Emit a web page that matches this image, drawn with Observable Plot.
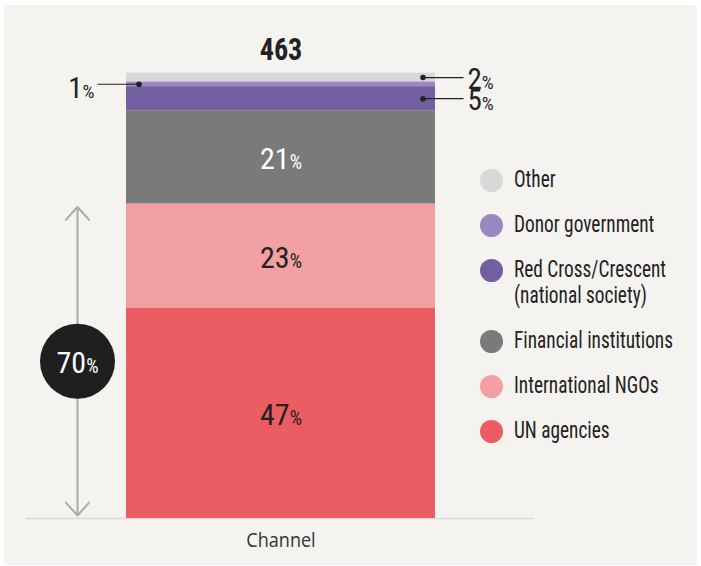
<!DOCTYPE html>
<html>
<head>
<meta charset="utf-8">
<script src="https://cdn.jsdelivr.net/npm/d3@7"></script>
<script src="https://cdn.jsdelivr.net/npm/@observablehq/plot@0.6"></script>
<style>
  html, body { margin: 0; padding: 0; background: #ffffff; }
  #wrap { position: relative; width: 701px; height: 566px; overflow: hidden; }
  #chart { position: absolute; left: 4px; top: 5px; }
  #legend { position: absolute; left: 480px; top: 167px; font-family: "Roboto Condensed", "Roboto", sans-serif;
            font-size: 23px; line-height: 26px; color: #222; }
  #legend .item { display: flex; align-items: flex-start; margin-bottom: 19px; }
  #legend .sw { flex: none; width: 23px; height: 23px; border-radius: 50%; margin-top: 1.5px; }
  #legend .lab { margin-left: 11px; white-space: pre; transform: scaleX(0.84); transform-origin: left center; }
  #chart svg g[aria-label^="x-axis"] text { font-family: "Open Sans", sans-serif !important; font-stretch: normal;
            font-size: 20.5px !important; fill: #333; }
</style>
</head>
<body>
<div id="wrap">
  <div id="chart"></div>
  <div id="legend"></div>
</div>
<script>
// ---- data (bottom of the stack first) ----
const channelName = "Channel";
const categories = [
  "UN agencies",
  "International NGOs",
  "Financial institutions",
  "Red Cross/Crescent (national society)",
  "Donor government",
  "Other"
];
const counts = [219, 108, 97, 25, 5, 9];
const colors = ["#ec5c63", "#f3a0a2", "#7a7a7a", "#735f9f", "#9a88c3", "#d9d8d8"];
const highlighted = ["UN agencies", "International NGOs"];   // bracketed share
const leftCallouts = ["Donor government"];                   // small labels on the left

// ---- derived table ----
const total = d3.sum(counts);
const rows = categories.map((category, i) => ({
  channel: channelName,
  category,
  count: counts[i],
  pct: Math.round(counts[i] / total * 100),
  color: colors[i]
}));
const bracketTop = d3.sum(rows.filter(d => highlighted.includes(d.category)), d => d.count);
const bracketPct = d3.sum(rows.filter(d => highlighted.includes(d.category)), d => d.pct);
const bracketRows = [{y1: bracketTop / 2, y2: bracketTop}, {y1: bracketTop / 2, y2: 0}];

// ---- layout constants (pixels) ----
const W = 693, H = 560;
const barLeft = 122, barRight = 431;
const half = (barRight - barLeft) / 2;
const bracketDx = -203.5;
const dotInset = 12.5, lineLen = 41, textGap = 3.5;

const isDark = c => d3.lab(c).l < 55;
const small = d => d.pct < 10;
const onLeft = d => leftCallouts.includes(d.category);
const stack = o => Plot.stackY({x: "channel", y: "count", ...o});

const plot = Plot.plot({
  width: W,
  height: H,
  marginLeft: 22,
  marginRight: W - 529,
  marginBottom: 47,
  marginTop: 0,
  style: {background: "#f4f3f0", fontFamily: "'Roboto Condensed', Roboto, sans-serif", overflow: "visible"},
  x: {domain: [channelName], range: [barLeft, barRight], padding: 0, axis: null},
  y: {domain: [0, total], range: [513, 67.7], axis: null},
  color: {domain: categories, range: colors},
  marks: [
    Plot.ruleY([0], {stroke: "#d8d8d6", strokeWidth: 1.5}),
    Plot.barY(rows, stack({fill: "category"})),
    // big in-bar labels
    Plot.text(rows, Plot.filter(d => !small(d) && !isDark(d.color),
      stack({text: d => d.pct + "%", fill: "#222", fontSize: 30, dy: 2}))),
    Plot.text(rows, Plot.filter(d => !small(d) && isDark(d.color),
      stack({text: d => d.pct + "%", fill: "#ffffff", fontSize: 30, dy: 2}))),
    // callouts on the right
    Plot.tickY(rows, Plot.filter(d => small(d) && !onLeft(d),
      stack({stroke: "#222", strokeWidth: 1.2, insetLeft: 2 * half - dotInset, insetRight: -(lineLen - dotInset)}))),
    Plot.dot(rows, Plot.filter(d => small(d) && !onLeft(d),
      stack({r: 2.8, fill: "#222", dx: half - dotInset}))),
    Plot.text(rows, Plot.filter(d => small(d) && !onLeft(d),
      stack({text: d => d.pct + "%", fill: "#222", fontSize: 29, textAnchor: "start",
             dx: half - dotInset + lineLen + textGap, dy: 2}))),
    // callouts on the left
    Plot.tickY(rows, Plot.filter(d => small(d) && onLeft(d),
      stack({stroke: "#222", strokeWidth: 1.2, insetLeft: -(lineLen - dotInset), insetRight: 2 * half - dotInset}))),
    Plot.dot(rows, Plot.filter(d => small(d) && onLeft(d),
      stack({r: 2.8, fill: "#222", dx: -(half - dotInset)}))),
    Plot.text(rows, Plot.filter(d => small(d) && onLeft(d),
      stack({text: d => d.pct + "%", fill: "#222", fontSize: 29, textAnchor: "end",
             dx: -(half - dotInset + lineLen + textGap), dy: 4}))),
    // total on top
    Plot.text([total], {x: () => channelName, y: d => d, text: d => String(d), dy: -23,
      fontSize: 32, fontWeight: "bold", fill: "#222"}),
    // bracket with double arrow
    Plot.arrow(bracketRows, {x: () => channelName, y1: "y1", y2: "y2", dx: bracketDx,
      stroke: "#ababab", strokeWidth: 2, headLength: 13, headAngle: 84, insetEnd: 3}),
    Plot.dot([bracketTop / 2], {x: () => channelName, y: d => d, r: 37.5, fill: "#1f1f1f", dx: bracketDx}),
    Plot.text([bracketTop / 2], {x: () => channelName, y: d => d, text: () => bracketPct + "%",
      fill: "#ffffff", fontSize: 30, dx: bracketDx, dy: 2}),
    // x axis
    Plot.axisX({tickSize: 0, tickPadding: 14, fontSize: 20, fill: "#333", label: null})
  ]
});

document.getElementById("chart").appendChild(plot);

const svg = d3.select(plot);
const squeeze = (sel, k) => sel.each(function () {
  const L = this.getComputedTextLength();
  this.setAttribute("textLength", (L * k).toFixed(1));
  this.setAttribute("lengthAdjust", "spacingAndGlyphs");
});
// small "%" sign
svg.selectAll("text").each(function () {
  const t = this.textContent;
  if (t.length > 1 && t.endsWith("%")) {
    this.textContent = t.slice(0, -1);
    d3.select(this).append("tspan").attr("font-size", "0.65em").text("%");
  }
});
// narrower bold total label
squeeze(svg.selectAll("text").filter(function () {
  const g = this.closest("g");
  return g && g.getAttribute("font-weight") === "bold";
}), 0.88);
// semi-condensed axis label
squeeze(svg.selectAll('g[aria-label^="x-axis"] text'), 0.88);

// legend (top of the stack first)
const legend = d3.select("#legend");
rows.slice().reverse().forEach(d => {
  const item = legend.append("div").attr("class", "item");
  item.append("span").attr("class", "sw").style("background", d.color);
  item.append("span").attr("class", "lab").text(d.category.replace(" (", "\n("));
});
</script>
</body>
</html>
